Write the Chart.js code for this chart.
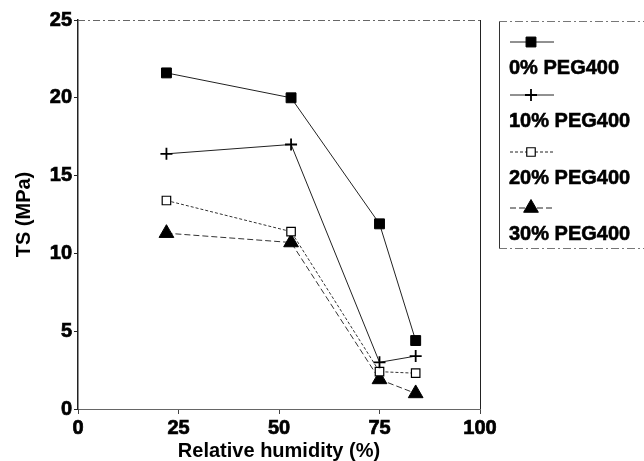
<!DOCTYPE html>
<html>
<head>
<meta charset="utf-8">
<script src="https://cdn.jsdelivr.net/npm/chart.js@4"></script>
<style>
  html, body { margin: 0; padding: 0; background: #fff; }
  #wrap { width: 644px; height: 461px; }
</style>
</head>
<body>
<div id="wrap"><canvas id="tsChart" width="644" height="461"></canvas></div>
<script>
const humidity = [22, 53, 75, 84];
const ts0 = [21.6, 20.0, 11.9, 4.4];
const ts10 = [16.4, 17.0, 3.0, 3.4];
const ts20 = [13.4, 11.4, 2.4, 2.3];
const ts30 = [11.3, 10.7, 1.9, 1.0];
const seriesLabels = ["0% PEG400", "10% PEG400", "20% PEG400", "30% PEG400"];
const xTicks = [0, 25, 50, 75, 100];
const yTicks = [0, 5, 10, 15, 20, 25];

const FONT = "'Liberation Sans', Arial, sans-serif";

function toPoints(ys) {
  return humidity.map((x, i) => ({ x, y: ys[i] }));
}

// top/right frame plus the boxed legend at the right
const framePlugin = {
  id: "frameAndLegend",
  afterDraw(chart) {
    const { ctx, chartArea } = chart;
    ctx.save();
    ctx.strokeStyle = "#666";
    ctx.lineWidth = 1;
    ctx.setLineDash([7, 3, 2, 3]);
    ctx.beginPath();
    ctx.moveTo(chartArea.left, chartArea.top + 0.5);
    ctx.lineTo(chartArea.right, chartArea.top + 0.5);
    ctx.stroke();
    ctx.setLineDash([]);
    ctx.strokeStyle = "#222";
    ctx.beginPath();
    ctx.moveTo(chartArea.right + 0.5, chartArea.top);
    ctx.lineTo(chartArea.right + 0.5, chartArea.bottom);
    ctx.stroke();

    // legend box
    const bx = 499, by = 21, bb = 248;
    ctx.strokeStyle = "#333";
    ctx.beginPath();
    ctx.moveTo(bx + 0.5, bb);
    ctx.lineTo(bx + 0.5, by + 0.5);
    ctx.stroke();
    ctx.setLineDash([8, 3, 2, 3]);
    ctx.strokeStyle = "#777";
    ctx.beginPath();
    ctx.moveTo(bx, by + 0.5);
    ctx.lineTo(644, by + 0.5);
    ctx.moveTo(bx, bb + 0.5);
    ctx.lineTo(644, bb + 0.5);
    ctx.stroke();
    ctx.setLineDash([]);

    const rowY = [42, 95, 152, 208];
    chart.data.datasets.forEach((ds, i) => {
      const y = rowY[i];
      ctx.strokeStyle = "#222";
      ctx.lineWidth = 1;
      ctx.setLineDash(ds.borderDash || []);
      ctx.beginPath();
      ctx.moveTo(510, y);
      ctx.lineTo(554, y);
      ctx.stroke();
      ctx.setLineDash([]);
      ctx.fillStyle = ds.pointBackgroundColor;
      ctx.strokeStyle = "#000";
      ctx.lineWidth = ds.pointBorderWidth || 1;
      Chart.helpers.drawPoint(ctx, {
        pointStyle: ds.pointStyle,
        radius: ds.pointRadius,
        borderWidth: ds.pointBorderWidth || 1
      }, 531, y);
      ctx.fillStyle = "#000";
      ctx.strokeStyle = "#000";
      ctx.lineWidth = 0.6;
      ctx.font = "bold 20px " + FONT;
      ctx.textBaseline = "middle";
      ctx.textAlign = "left";
      ctx.fillText(ds.label, 509, y + 26);
      ctx.strokeText(ds.label, 509, y + 26);
    });
    ctx.restore();
  }
};

new Chart(document.getElementById("tsChart"), {
  type: "scatter",
  data: {
    datasets: [
      {
        label: seriesLabels[0],
        data: toPoints(ts0),
        showLine: true,
        borderColor: "#222",
        borderWidth: 1,
        pointStyle: "rect",
        pointRadius: 7,
        pointBackgroundColor: "#000",
        pointBorderColor: "#000"
      },
      {
        label: seriesLabels[1],
        data: toPoints(ts10),
        showLine: true,
        borderColor: "#222",
        borderWidth: 1,
        pointStyle: "cross",
        pointRadius: 6,
        pointBorderWidth: 1.8,
        pointBackgroundColor: "#000",
        pointBorderColor: "#000"
      },
      {
        label: seriesLabels[2],
        data: toPoints(ts20),
        showLine: true,
        borderColor: "#333",
        borderWidth: 1,
        borderDash: [3, 2],
        pointStyle: "rect",
        pointRadius: 6,
        pointBackgroundColor: "#fff",
        pointBorderColor: "#000",
        pointBorderWidth: 1.2
      },
      {
        label: seriesLabels[3],
        data: toPoints(ts30),
        showLine: true,
        borderColor: "#333",
        borderWidth: 1,
        borderDash: [6, 3],
        pointStyle: "triangle",
        pointRadius: 8.5,
        pointBackgroundColor: "#000",
        pointBorderColor: "#000"
      }
    ]
  },
  options: {
    responsive: false,
    animation: false,
    layout: { padding: { top: 20, right: 164, left: 0, bottom: 0 } },
    plugins: {
      legend: { display: false },
      tooltip: { enabled: false }
    },
    scales: {
      x: {
        type: "linear",
        min: 0,
        max: 100,
        afterBuildTicks: (scale) => { scale.ticks = xTicks.map(v => ({ value: v })); },
        afterFit: (scale) => { scale.height = 52; },
        border: { color: "#666", width: 1, dash: [8, 3, 2, 3] },
        grid: { drawOnChartArea: false, tickLength: 5, color: "#444" },
        ticks: {
          color: "#000",
          padding: 2,
          textStrokeColor: "#000",
          textStrokeWidth: 0.7,
          font: { family: FONT, size: 20, weight: "bold" }
        },
        title: {
          display: true,
          text: "Relative humidity (%)",
          color: "#000",
          padding: { top: 0, bottom: 0 },
          font: { family: FONT, size: 20, weight: "bold", lineHeight: 1.0 }
        }
      },
      y: {
        type: "linear",
        min: 0,
        max: 25,
        afterBuildTicks: (scale) => { scale.ticks = yTicks.map(v => ({ value: v })); },
        afterFit: (scale) => { scale.width = 78; },
        border: { color: "#222", width: 1.5 },
        grid: { drawOnChartArea: false, tickLength: 4, color: "#222" },
        ticks: {
          color: "#000",
          padding: 2,
          textStrokeColor: "#000",
          textStrokeWidth: 0.7,
          font: { family: FONT, size: 20, weight: "bold" }
        },
        title: {
          display: true,
          text: "TS (MPa)",
          color: "#000",
          padding: { top: 12, bottom: 0 },
          font: { family: FONT, size: 20, weight: "bold" }
        }
      }
    }
  },
  plugins: [framePlugin]
});
</script>
</body>
</html>
